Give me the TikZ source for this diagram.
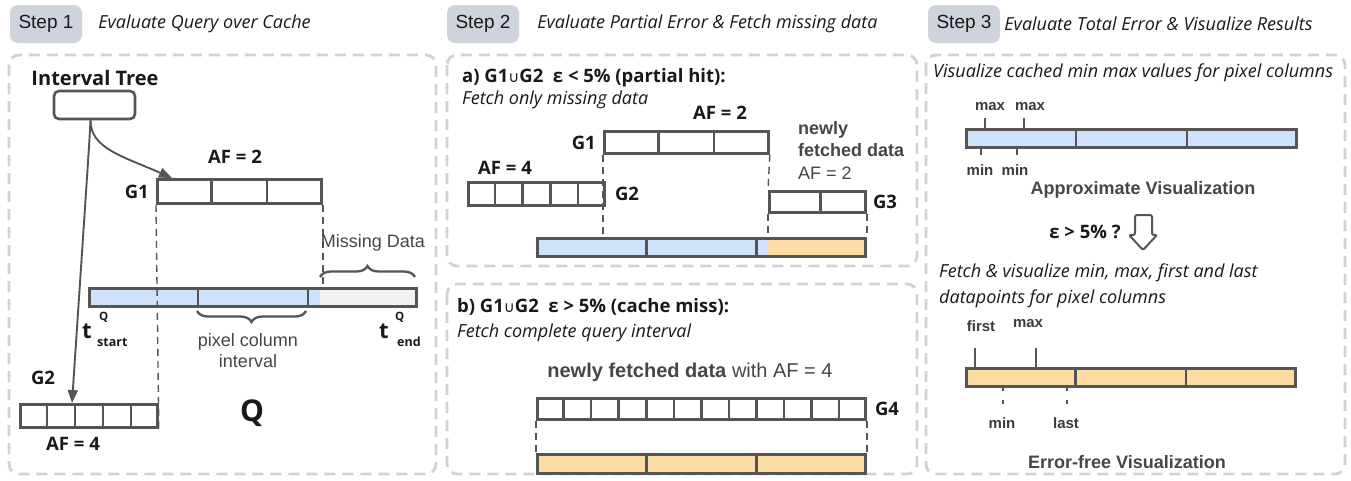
\documentclass[tikz,border=0pt]{standalone}
\usepackage{fontspec}
\setmainfont{Open Sans}
\newfontfamily\arialfont{Liberation Sans}
\newfontfamily\symfont{DejaVu Sans}
\usepackage{tikz}
\usetikzlibrary{positioning,calc,arrows.meta,decorations.pathreplacing}
\usepackage{xcolor}
\definecolor{stepgray}{RGB}{207,212,220}
\definecolor{panelgray}{RGB}{205,211,219}
\definecolor{linegray}{RGB}{85,85,85}
\definecolor{textgray}{RGB}{70,70,70}
\definecolor{inkdark}{RGB}{25,25,25}
\definecolor{cacheblue}{RGB}{206,226,250}
\definecolor{fetchorange}{RGB}{253,220,164}
\definecolor{missgray}{RGB}{241,242,244}

\begin{document}
\begin{tikzpicture}[x=1pt, y=-1pt,
  stepbox/.style={fill=stepgray, rounded corners=8pt, minimum width=72pt, minimum height=38pt, inner sep=0pt, font=\arialfont\fontsize{19}{19}\selectfont, text=inkdark},
  panel/.style={draw=panelgray, line width=2.8pt, dash pattern=on 11pt off 7pt, rounded corners=10pt},
  lbl/.style={inner sep=0pt, font=\bfseries\fontsize{18.5}{18}\selectfont, text=inkdark},
  note/.style={anchor=west, inner sep=0pt, font=\itshape\fontsize{18}{20}\selectfont, text=inkdark},
  plain/.style={inner sep=0pt, font=\arialfont\fontsize{18}{21}\selectfont, text=textgray},
  strong/.style={inner sep=0pt, font=\arialfont\bfseries\fontsize{18}{21}\selectfont, text=textgray},
  tiny/.style={inner sep=0pt, font=\arialfont\bfseries\fontsize{15}{15}\selectfont, text=inkdark!85},
  bar/.style={draw=linegray, line width=2.8pt, inner sep=0pt, anchor=north west},
  divider/.style={draw=linegray, line width=2.5pt},
  guide/.style={draw=linegray, line width=1.4pt, dash pattern=on 7pt off 5pt},
  link/.style={draw=linegray, line width=1.9pt, -{Triangle[length=13pt, width=10pt]}},
  tick/.style={draw=linegray, line width=1.5pt},
  brace/.style={draw=linegray, line width=2.3pt, decorate, decoration={brace, amplitude=11pt}}
]
\fill[white] (0,0) rectangle (1351,480);
\useasboundingbox (0,0) rectangle (1351,480);

% step headers
\node[stepbox] (step1) at (46,24) {Step 1};
\node[note, right=16pt of step1] {Evaluate Query over Cache};
\node[stepbox] (step2) at (483,24) {Step 2};
\node[note, right=18pt of step2] {Evaluate Partial Error \& Fetch missing data};
\node[stepbox] (step3) at (964,24) {Step 3};
\node[note, right=4pt of step3] {Evaluate Total Error \& Visualize Results};

% panels
\draw[panel] (9,55) rectangle (436,474);
\draw[panel] (447,55) rectangle (917,266);
\draw[panel] (447,284) rectangle (917,474);
\draw[panel] (926,55) rectangle (1345,474);

%% step 1: query over the interval tree
\node[lbl, font=\bfseries\fontsize{20}{20}\selectfont] (treelbl) at (95,78) {Interval Tree};
\node[draw=linegray, line width=2.6pt, rounded corners=5pt, minimum width=81pt, minimum height=28pt] (tree) at (94.5,105) {};

\node[lbl] at (235,157) {AF = 2};
\node[bar, minimum width=164pt, minimum height=24pt] (g1) at (156,178) {};
\node[lbl, left=7pt of g1] {G1};
\foreach \k in {1,2}
  \draw[divider] ($(g1.north west)!\k/3!(g1.north east)$) -- ($(g1.south west)!\k/3!(g1.south east)$);

\node[lbl] at (43,378) {G2};
\node[bar, minimum width=137pt, minimum height=23pt] (g2) at (19,403) {};
\foreach \k in {1,...,4}
  \draw[divider] ($(g2.north west)!\k/5!(g2.north east)$) -- ($(g2.south west)!\k/5!(g2.south east)$);
\node[lbl] at (73,444) {AF = 4};

\draw[link] ([xshift=-4pt]tree.south) .. controls +(0,28) and +(-50,-22) .. ([xshift=16pt]g1.north west);
\draw[link] ([xshift=-4pt]tree.south) .. controls +(-1,20) .. ([xshift=53pt]g2.north west);

% query range Q
\fill[cacheblue] (88,287) rectangle (320,305);
\fill[missgray] (320,287) rectangle (415,305);
\node[bar, minimum width=327pt, minimum height=18pt] (qbar) at (88,287) {};
\foreach \k in {1,2}
  \draw[divider] ($(qbar.north west)!\k/3!(qbar.north east)$) -- ($(qbar.south west)!\k/3!(qbar.south east)$);

\draw[guide] (g1.south west) -- (g2.south east);
\draw[guide] (g1.south east) -- (g1.south east |- qbar.north);

\draw[brace] (320,277) -- (415,277);
\node[plain] at (373,243) {Missing Data};
\draw[brace] (306,311) -- (197,311);
\node[plain, align=center] at (248,351) {pixel column\\interval};

\node[lbl, font=\bfseries\fontsize{22}{22}\selectfont] (tst) at (87,331) {t};
\node[lbl, font=\bfseries\fontsize{11.5}{12}\selectfont, anchor=west] at (99,317) {Q};
\node[lbl, font=\bfseries\fontsize{12.5}{12}\selectfont, anchor=west] at (97,342) {start};
\node[lbl, font=\bfseries\fontsize{22}{22}\selectfont] (tend) at (384,331) {t};
\node[lbl, font=\bfseries\fontsize{11.5}{12}\selectfont, anchor=west] at (395,317) {Q};
\node[lbl, font=\bfseries\fontsize{12.5}{12}\selectfont, anchor=west] at (397,342) {end};

\node[lbl, font=\bfseries\fontsize{30}{30}\selectfont] at (252,413) {Q};

%% step 2a: partial hit
\node[lbl, anchor=west] at (462,78) {a) G1{\symfont\mdseries\fontsize{15}{15}\selectfont ∪}G2\ \ ε < 5\% (partial hit):};
\node[note] at (462,100) {Fetch only missing data};

\node[lbl] at (720,113) {AF = 2};
\node[bar, minimum width=164pt, minimum height=22pt] (ag1) at (603,130) {};
\node[lbl, left=7pt of ag1] {G1};
\foreach \k in {1,2}
  \draw[divider] ($(ag1.north west)!\k/3!(ag1.north east)$) -- ($(ag1.south west)!\k/3!(ag1.south east)$);

\node[plain, anchor=west, align=left, font=\arialfont\fontsize{18}{22.5}\selectfont] at (798,150) {\textbf{newly}\\\textbf{fetched data}\\AF = 2};

\node[lbl] at (505,168) {AF = 4};
\node[bar, minimum width=136pt, minimum height=23pt] (ag2) at (467,181) {};
\node[lbl, right=9pt of ag2] {G2};
\foreach \k in {1,...,4}
  \draw[divider] ($(ag2.north west)!\k/5!(ag2.north east)$) -- ($(ag2.south west)!\k/5!(ag2.south east)$);

\node[bar, minimum width=96pt, minimum height=21pt] (ag3) at (768,190) {};
\node[lbl, right=6pt of ag3] {G3};
\draw[divider] ($(ag3.north west)!0.53!(ag3.north east)$) -- ($(ag3.south west)!0.53!(ag3.south east)$);

\fill[cacheblue] (536,237) rectangle (767,255);
\fill[fetchorange] (767,237) rectangle (864,255);
\node[bar, minimum width=328pt, minimum height=18pt] (abar) at (536,237) {};
\foreach \k in {1,2}
  \draw[divider] ($(abar.north west)!\k/3!(abar.north east)$) -- ($(abar.south west)!\k/3!(abar.south east)$);

\draw[guide] (ag1.south west) -- (ag1.south west |- abar.north);
\draw[guide] (ag1.south east) -- (ag3.north west);
\draw[guide] (ag3.south west) -- (ag3.south west |- abar.north);
\draw[guide] (ag3.south east) -- (abar.north east);

%% step 2b: cache miss
\node[lbl, anchor=west] at (457,307) {b) G1{\symfont\mdseries\fontsize{15}{15}\selectfont ∪}G2\ \ ε > 5\% (cache miss):};
\node[note] at (457,333) {Fetch complete query interval};
\node[plain, font=\arialfont\fontsize{20}{22}\selectfont] at (690,372) {\textbf{newly fetched data} with AF = 4};

\node[bar, minimum width=328pt, minimum height=21pt] (g4) at (536,397) {};
\node[lbl, right=8pt of g4] {G4};
\foreach \k in {1,...,11}
  \draw[divider] ($(g4.north west)!\k/12!(g4.north east)$) -- ($(g4.south west)!\k/12!(g4.south east)$);

\node[bar, minimum width=328pt, minimum height=19pt, fill=fetchorange] (bbar) at (536,453) {};
\foreach \k in {1,2}
  \draw[divider] ($(bbar.north west)!\k/3!(bbar.north east)$) -- ($(bbar.south west)!\k/3!(bbar.south east)$);

\draw[guide] (g4.south west) -- (bbar.north west);
\draw[guide] (g4.south east) -- (bbar.north east);

%% step 3: visualize
\node[note] at (933,73) {Visualize cached min max values for pixel columns};

\node[tiny] at (990,107) {max};
\node[tiny] at (1030,107) {max};
\node[bar, minimum width=330pt, minimum height=18pt, fill=cacheblue] (vbar) at (965,128) {};
\foreach \k in {1,2}
  \draw[divider] ($(vbar.north west)!\k/3!(vbar.north east)$) -- ($(vbar.south west)!\k/3!(vbar.south east)$);
\draw[tick] (985,118) -- (985,128);
\draw[tick] (1024,118) -- (1024,128);
\draw[tick] (981,146) -- (981,155);
\draw[tick] (1017,146) -- (1017,155);
\node[tiny] at (980,170) {min};
\node[tiny] at (1015,170) {min};
\node[strong] at (1143,190) {Approximate Visualization};

\node[lbl] at (1085,232) {ε > 5\% ?};
\draw[linegray, line width=2pt, rounded corners=2pt]
  (1135,235) -- (1135,215) -- (1152,215) -- (1152,235) -- (1157,235) -- (1143,250) -- (1129,235) -- cycle;

\node[note, align=left, font=\itshape\fontsize{18}{26}\selectfont] at (939,286) {Fetch \& visualize min, max, first and last\\datapoints for pixel columns};

\node[tiny] at (981,326) {first};
\node[tiny] at (1028,324) {max};
\draw[tick] (975,348) -- (975,367);
\draw[tick] (1036,348) -- (1036,367);
\node[bar, minimum width=329pt, minimum height=18pt, fill=fetchorange] (ebar) at (965,367) {};
\foreach \k in {1,2}
  \draw[divider] ($(ebar.north west)!\k/3!(ebar.north east)$) -- ($(ebar.south west)!\k/3!(ebar.south east)$);
\draw[tick, dash pattern=on 4pt off 9pt] (1003,387) -- (1003,405);
\draw[tick, dash pattern=on 4pt off 9pt] (1067,387) -- (1067,405);
\node[tiny] at (1002,423) {min};
\node[tiny] at (1066,423) {last};
\node[strong] at (1127,462) {Error-free Visualization};
\end{tikzpicture}
\end{document}
